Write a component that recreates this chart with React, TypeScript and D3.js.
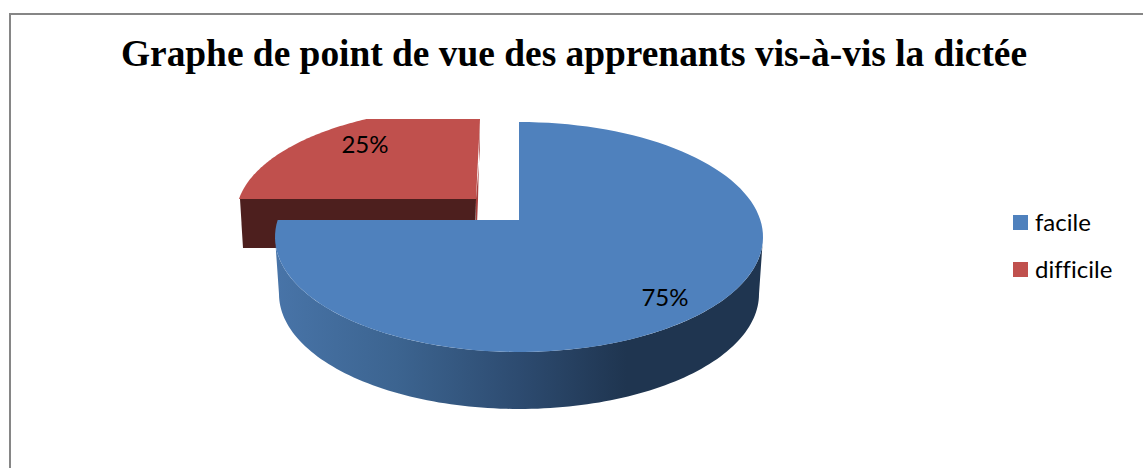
import * as d3 from "d3";

const categories = ["facile", "difficile"];
const values = [75, 25];
const title = "Graphe de point de vue des apprenants vis-à-vis la dictée";
const colors = ["#4F81BD", "#C0504D"];
const sideColor = "#4D1F1E";

const w = 1143;
const h = 468;
const N = 120;

// ellipse du dessus / du dessous (perspective : l'apex n'est pas au centre)
const blue = { cx: 519, cy: 237, rx: 244, ry: 115, ax: 519, ay: 220 };
const blueDepth = { cy: 294, rx: 240, ry: 115 };
const red = { cx: 476, cy: 216, rx: 240, ry: 109, ax: 476, ay: 199 };

type P = [number, number];
const line = d3.line<P>();

// angle 0 = haut, sens horaire (comme d3.pie)
function arcPts(e: { cx: number; cy: number; rx: number; ry: number }, a0: number, a1: number): P[] {
  return d3.range(N + 1).map((i) => {
    const a = a0 + ((a1 - a0) * i) / N;
    return [e.cx + e.rx * Math.sin(a), e.cy - e.ry * Math.cos(a)] as P;
  });
}

const labelStyle = { fontVariantLigatures: "none" };

export default function App() {
  const pie = d3.pie<number>().sort(null)(values);
  const [pBlue, pRed] = pie;

  // la coupe à 270° reste horizontale : décalage dû à la perspective
  const blueEnd = pBlue.endAngle + Math.asin((blue.cy - blue.ay) / blue.ry);
  const blueTop = line([[blue.ax, blue.ay], ...arcPts(blue, pBlue.startAngle, blueEnd)]) + "Z";

  const redStart = pRed.startAngle + Math.asin((red.cy - red.ay) / red.ry);
  const redTop = line([[red.ax, red.ay], ...arcPts(red, redStart, pRed.endAngle), [red.ax + 4, 119]]) + "Z";

  // paroi extérieure bleue
  const sideA = arcPts(blue, Math.PI / 2, (Math.PI * 3) / 2);
  const sideB = arcPts({ cx: blue.cx, ...blueDepth }, (Math.PI * 3) / 2, Math.PI / 2);
  const blueSide = line([...sideA, ...sideB]) + "Z";

  const redFront: P[] = [[240, 199], [476, 199], [475, 248], [243, 248]];

  return (
    <svg
      width={w}
      height={h}
      viewBox={`0 0 ${w} ${h}`}
      style={{ position: "absolute", left: 0, top: 0 }}
    >
      <defs>
        <linearGradient id="side" gradientUnits="userSpaceOnUse" x1={275} x2={763} y1={0} y2={0}>
          <stop offset="0%" stopColor="#4874A8" />
          <stop offset="25%" stopColor="#3C6490" />
          <stop offset="50%" stopColor="#2D4B70" />
          <stop offset="72%" stopColor="#1F3550" />
          <stop offset="100%" stopColor="#1F3550" />
        </linearGradient>
        <clipPath id="clipRed">
          <rect x={0} y={119} width={w} height={h} />
        </clipPath>
      </defs>

      <rect width={w} height={h} fill="#fff" />
      <path d={`M10,${h}V14H${w}`} fill="none" stroke="#868686" strokeWidth={2} />

      <text
        x={574}
        y={66}
        textAnchor="middle"
        fontFamily="'Liberation Serif', serif"
        fontWeight="bold"
        fontSize={37.4}
      >
        {title}
      </text>

      {/* tranche rouge */}
      <path d={line(redFront) + "Z"} fill={sideColor} />
      <path d={redTop} fill={colors[1]} clipPath="url(#clipRed)" />
      <path d={line([[480, 119], [480, 150], [476, 199], [476, 248], [478, 200]]) + "Z"} fill="#A8403E" />

      {/* tranche bleue */}
      <path d={blueSide} fill="url(#side)" />
      <path d={blueTop} fill={colors[0]} />

      <text x={365} y={153} textAnchor="middle" fontFamily="Lato, sans-serif" fontSize={24}>
        {values[1]}%
      </text>
      <text x={665} y={306} textAnchor="middle" fontFamily="Lato, sans-serif" fontSize={24}>
        {values[0]}%
      </text>

      {categories.map((c, i) => (
        <g key={c} transform={`translate(1013,${215 + i * 47})`}>
          <rect width={15} height={15} fill={colors[i]} />
          <text x={22} y={16} fontFamily="Lato, sans-serif" fontSize={24} style={labelStyle}>
            {c}
          </text>
        </g>
      ))}
    </svg>
  );
}
